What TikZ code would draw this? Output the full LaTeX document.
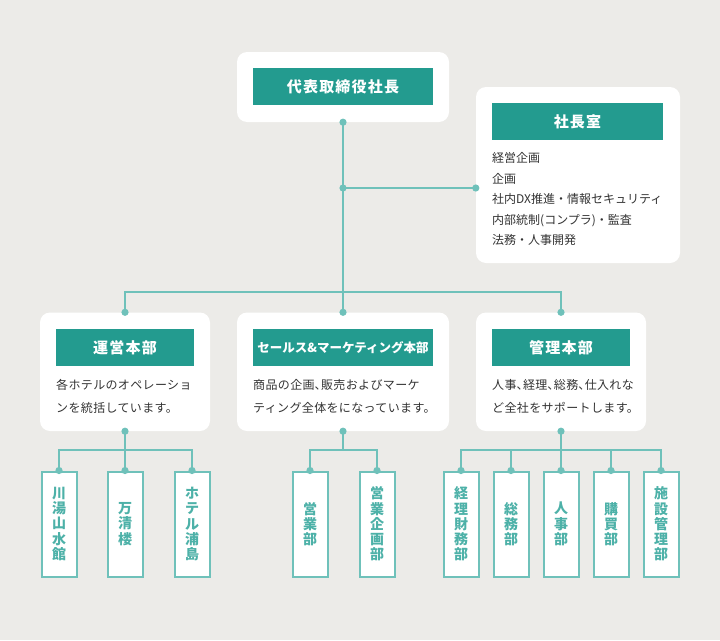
\documentclass[tikz,border=0pt]{standalone}
\usepackage{fontspec}
\setmainfont{Noto Sans CJK JP}
\newfontfamily\headfont[LetterSpace=8]{Noto Sans CJK JP}
\newfontfamily\bodyfont[LetterSpace=3]{Noto Sans CJK JP}
\definecolor{bgc}{HTML}{ECEBE8}
\definecolor{tealbar}{HTML}{239B8F}
\definecolor{linec}{HTML}{6FC1BA}
\definecolor{leaftext}{HTML}{4DB1A8}
\definecolor{bodyc}{HTML}{333333}
\newcommand\tten{\makebox[6.5pt][l]{、}}
\begin{document}
\begin{tikzpicture}[x=1pt,y=-1pt,
  card/.style={fill=white, rounded corners=10pt, inner sep=0pt},
  bar/.style={fill=tealbar, text=white, inner sep=0pt, minimum height=37pt,
    font=\headfont\bfseries\fontsize{15}{18}\selectfont},
  leaf/.style={draw=linec, line width=2pt, fill=white, minimum width=35pt,
    minimum height=105pt, inner sep=0pt, align=center, text=leaftext,
    font=\bfseries\fontsize{14}{15.3}\selectfont},
  conn/.style={draw=linec, line width=1.5pt},
  txt/.style={anchor=base west, inner sep=0pt, text=bodyc, font=\fontsize{12}{14}\selectfont},
  btxt/.style={anchor=base west, inner sep=0pt, text=bodyc, font=\bodyfont\fontsize{12}{14}\selectfont},
]
\fill[bgc] (0,0) rectangle (720,640);
\useasboundingbox (0,0) rectangle (720,640);

% top level
\node[card, minimum width=212pt, minimum height=70pt] (ceo) at (343,87) {};
\node[bar, minimum width=180pt] (ceobar) at (343,86.5) {代表取締役社長};

\node[card, minimum width=204pt, minimum height=176pt] (office) at (578,175) {};
\node[bar, minimum width=171pt] (officebar) at (577.5,121.5) {社長室};
\node[txt] (o1) at (492,162.5) {経営企画};
\node[txt] (o2) at (492,183) {企画};
\node[txt] (o3) at (492,203.5) {社内DX推進・情報セキュリティ};
\node[txt] (o4) at (492,224) {内部統制(コンプラ)・監査};
\node[txt] (o5) at (492,244.5) {法務・人事開発};

% middle level
\node[card, minimum width=170pt, minimum height=118.5pt] (ops) at (125,371.75) {};
\node[bar, minimum width=138pt] (opsbar) at (125,347.5) {運営本部};
\node[btxt] (ops1) at (56,389.5) {各ホテルのオペレーショ};
\node[btxt] (ops2) at (56,412.5) {ンを統括しています。};

\node[card, minimum width=212pt, minimum height=118.5pt] (sales) at (343,371.75) {};
\node[bar, minimum width=180pt, font=\bfseries\fontsize{12.5}{15}\selectfont] (salesbar) at (343,347.5) {セールス\&マーケティング本部};
\node[btxt] (s1) at (253,389.5) {商品の企画\tten 販売およびマーケ};
\node[btxt] (s2) at (253,412.5) {ティング全体をになっています。};

\node[card, minimum width=170pt, minimum height=118.5pt] (admin) at (561,371.75) {};
\node[bar, minimum width=138pt] (adminbar) at (561,347.5) {管理本部};
\node[btxt] (a1) at (492,389.5) {人事\tten 経理\tten 総務\tten 仕入れな};
\node[btxt] (a2) at (492,412.5) {ど全社をサポートします。};

% leaves
\node[leaf] (l1) at (59,524) {川\\湯\\山\\水\\館};
\node[leaf] (l2) at (125,524) {万\\清\\楼};
\node[leaf] (l3) at (192,524) {ホ\\テ\\ル\\浦\\島};
\node[leaf] (s1l) at (310,524) {営\\業\\部};
\node[leaf] (s2l) at (377,524) {営\\業\\企\\画\\部};
\node[leaf] (m1) at (461,524) {経\\理\\財\\務\\部};
\node[leaf] (m2) at (511,524) {総\\務\\部};
\node[leaf] (m3) at (561,524) {人\\事\\部};
\node[leaf] (m4) at (611,524) {購\\買\\部};
\node[leaf] (m5) at (661,524) {施\\設\\管\\理\\部};

% connectors
\coordinate (j1) at (343,188);
\coordinate (j2) at (343,292);
\coordinate (k1) at (125,450);
\coordinate (k2) at (343,450);
\coordinate (k3) at (561,450);

\draw[conn] (ceo.south) -- (sales.north);
\draw[conn] (j1) -- (office.west |- j1);
\draw[conn] (ops.north) |- (j2) -| (admin.north);

\draw[conn] (ops.south) -- (l2.north);
\draw[conn] (l1.north) |- (k1) -| (l3.north);
\draw[conn] (sales.south) -- (k2);
\draw[conn] (s1l.north) |- (k2) -| (s2l.north);
\draw[conn] (admin.south) -- (m3.north);
\draw[conn] (m1.north) |- (k3) -| (m5.north);
\draw[conn] (m2.north) -- (m2.north |- k3);
\draw[conn] (m4.north) -- (m4.north |- k3);

\foreach \p in {ceo.south, j1, ops.north, sales.north, admin.north,
  ops.south, sales.south, admin.south, l1.north, l2.north, l3.north,
  s1l.north, s2l.north, m1.north, m2.north, m3.north, m4.north, m5.north}
  \fill[linec] (\p) circle (3.6pt);
\fill[linec] (office.west |- j1) circle (3.6pt);
\end{tikzpicture}
\end{document}
